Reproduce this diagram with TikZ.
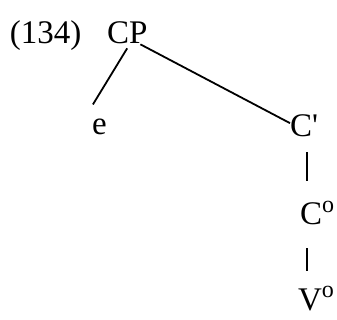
\documentclass[tikz,border=0pt]{standalone}
\usepackage{fontspec}
\setmainfont{Liberation Serif}
\usetikzlibrary{positioning}

\begin{document}
\begin{tikzpicture}[
  x=0.5pt, y=-0.5pt,
  lbl/.style={inner sep=0pt, outer sep=0pt, anchor=base west, font=\fontsize{16.5}{19}\selectfont},
  branch/.style={draw=black, line width=0.9pt},
  bar/.style={draw=black, line width=0.8pt}
]
  \useasboundingbox (0,0) rectangle (337,320);

  % Nodes
  \node[lbl] (num) at (10,44) {(134)};
  \node[lbl] (cp) at (107,44) {CP};
  \node[lbl] (e) at (92,135) {e};
  \node[lbl] (cbar) at (290,137) {C\textquotesingle};
  \node[lbl] (czero) at (300,225) {C\textsuperscript{\fontsize{12}{12}\selectfont o}};
  \node[lbl] (vzero) at (298,310) {V\textsuperscript{\fontsize{12}{12}\selectfont o}};

  % Lines
  \path[branch] ([yshift=-2pt]cp.south) -- ([xshift=-3.2pt,yshift=7.5pt]e.north);
  \path[branch] ([xshift=-3.5pt]cp.south east) -- ([yshift=-4pt]cbar.north west);
  \path[bar, shorten <=7.5pt, shorten >=10pt] ([xshift=3.5pt]czero.north west |- cbar.south) -- ([xshift=3.5pt]czero.north west);
  \path[bar, shorten <=11.5pt, shorten >=7.5pt] ([xshift=3.5pt]czero.south west) -- ([xshift=3.5pt]czero.south west |- vzero.north);

\end{tikzpicture}
\end{document}
